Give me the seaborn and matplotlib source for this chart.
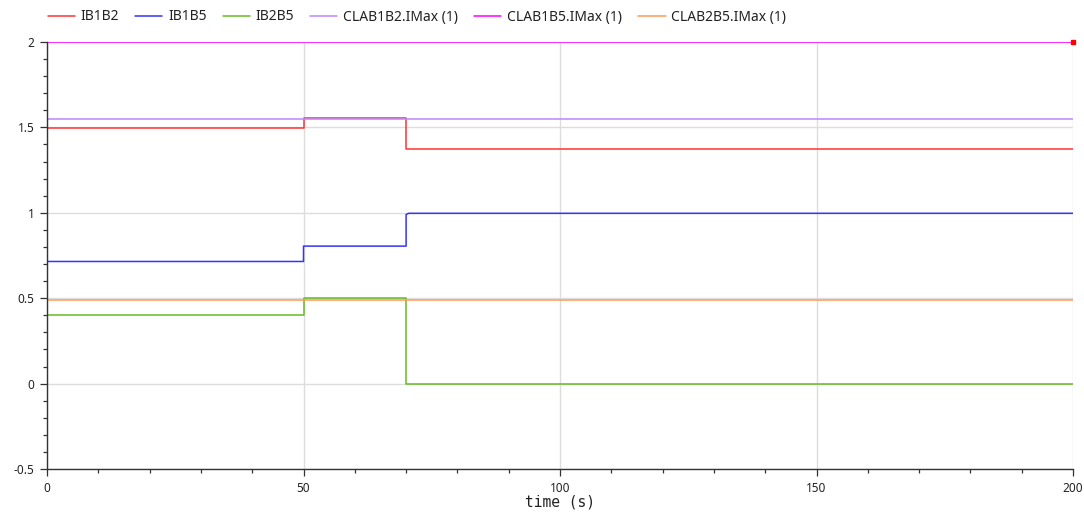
import matplotlib
matplotlib.use("Agg")
import matplotlib.pyplot as plt
from matplotlib.ticker import MultipleLocator, FuncFormatter
import numpy as np
import pandas as pd
import seaborn as sns

# Simulation results: step signals sampled at their switching instants
time_ib1b2 = [0, 50, 50, 70, 70, 200]
ib1b2 = [1.495, 1.495, 1.555, 1.555, 1.375, 1.375]

time_ib1b5 = [0, 50, 50, 70, 70, 70.5, 200]
ib1b5 = [0.715, 0.715, 0.805, 0.805, 0.99, 0.997, 0.997]

time_ib2b5 = [0, 50, 50, 70, 70, 200]
ib2b5 = [0.4, 0.4, 0.5, 0.5, 0.0, 0.0]

time_const = [0, 200]
clab1b2_imax = [1.55, 1.55]
clab1b5_imax = [2.0, 2.0]
clab2b5_imax = [0.49, 0.49]

series_names = ["IB1B2", "IB1B5", "IB2B5",
                "CLAB1B2.IMax (1)", "CLAB1B5.IMax (1)", "CLAB2B5.IMax (1)"]
series_colors = ["#ff3333", "#3333ff", "#66bb22", "#bb88ff", "#ff00ff", "#ff9955"]

x_ticks = [0, 50, 100, 150, 200]
y_ticks = [-0.5, 0, 0.5, 1, 1.5, 2]

frames = []
for name, t, v in zip(series_names,
                      [time_ib1b2, time_ib1b5, time_ib2b5, time_const, time_const, time_const],
                      [ib1b2, ib1b5, ib2b5, clab1b2_imax, clab1b5_imax, clab2b5_imax]):
    frames.append(pd.DataFrame({"time": t, "value": v, "series": name}))
df = pd.concat(frames, ignore_index=True)

sns.set_theme(style="white")
plt.rcParams["font.family"] = ["Noto Sans", "DejaVu Sans"]
plt.rcParams["axes.unicode_minus"] = False

fig = plt.figure(figsize=(10.84, 5.12), dpi=100)
ax = fig.add_axes([47 / 1084, 1 - 469 / 512, (1073 - 47) / 1084, (469 - 42) / 512])

sns.lineplot(data=df, x="time", y="value", hue="series", hue_order=series_names,
             palette=series_colors, estimator=None, sort=False, linewidth=1.1, ax=ax)

# end-of-curve marker
ax.plot([time_const[-1]], [clab1b5_imax[-1]], marker="s", markersize=3.5,
        color="#ff0000", linestyle="none", clip_on=False, zorder=5)

ax.set_xlim(x_ticks[0], x_ticks[-1])
ax.set_ylim(y_ticks[0], y_ticks[-1])
ax.set_xticks(x_ticks)
ax.set_yticks(y_ticks)
ax.xaxis.set_minor_locator(MultipleLocator(10))
ax.yaxis.set_minor_locator(MultipleLocator(0.1))
ax.yaxis.set_major_formatter(FuncFormatter(lambda v, p: f"{v:g}"))
ax.xaxis.set_major_formatter(FuncFormatter(lambda v, p: f"{v:g}"))

ax.grid(True, which="major", color="#dddddd", linewidth=1.0)
ax.set_axisbelow(True)
for side in ("top", "right"):
    ax.spines[side].set_visible(False)
for side in ("left", "bottom"):
    ax.spines[side].set_color("#333333")
    ax.spines[side].set_linewidth(1.0)

ax.tick_params(which="major", direction="out", length=5, width=0.9, color="#333333",
               labelsize=8.5, labelcolor="#222222", pad=4, left=True, bottom=True)
ax.tick_params(which="minor", direction="out", length=3, width=0.9, color="#333333",
               left=True, bottom=True)

ax.set_ylabel("")
ax.set_xlabel("time (s)", family="DejaVu Sans Mono", fontsize=10.5, color="#222222", labelpad=0)

handles, labels = ax.get_legend_handles_labels()
ax.get_legend().remove()
fig.legend(handles, labels, loc="center left", bbox_to_anchor=(45 / 1084, 1 - 17 / 512),
           bbox_transform=fig.transFigure, ncol=6, frameon=False, fontsize=10,
           handlelength=1.95, handletextpad=0.4, columnspacing=1.18,
           borderaxespad=0.0, borderpad=0.2, labelcolor="#222222")

fig.savefig("out.png", dpi=100, facecolor="white")
